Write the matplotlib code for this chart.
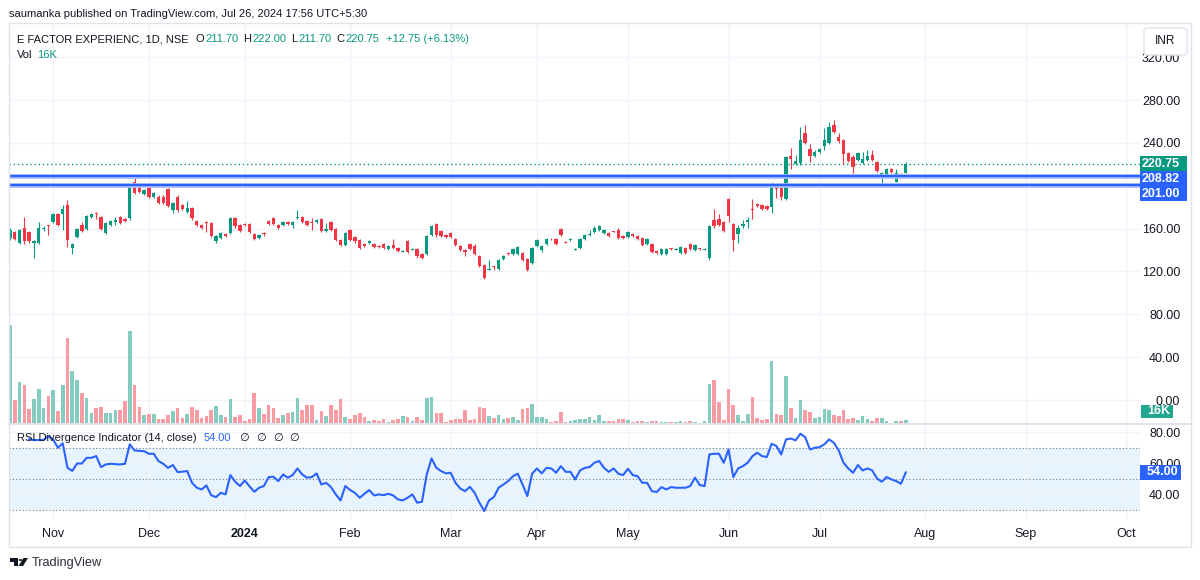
import numpy as np
import matplotlib
matplotlib.use("Agg")
import matplotlib.pyplot as plt
from matplotlib.patches import Rectangle, FancyBboxPatch, Circle, Polygon
from matplotlib.lines import Line2D

plt.rcParams['font.family'] = ['Liberation Sans', 'DejaVu Sans']

# ---------------- data ----------------
opens = [151,157,147,161,157,147,147,160,163,166,
         174,174,182,142,152,163,160,171,175,171,
         156,163,166,171,169,170,204,202,192,198,
         190,190,190,197,177,190,182,176,179,167,
         163,166,165,148,151,155,156,170,163,164,
         164,155,151,156,167,170,163,163,166,163,
         170,171,167,166,166,169,158,166,160,149,
         145,159,152,149,146,147,146,144,146,141,
         145,142,138.5,148,140.5,141,136,136,154,164,
         158,154,156,150,144,140,146,144,134,126,
         121.5,125,122,132,137,136,136,137,132,128,
         144,140,146,150.5,150,160,147.5,149,140.5,142,
         150,154,157,159,156,156,157.5,159,153,152,
         155,153,151,146,146,139,136,136,141.5,140.5,
         137,142,146,140,141.5,140.5,133,168,169,166,
         188,164,155,162,166,178,183,182,181,180,
         201,198,188,228,220,221,249,234,228,232,
         237,240,257,246,243,231,227,224,221,224,
         229,222,208,210,216,204,211,211.7]
closes = [159,150,159,148,148,148.5,161,161,162,174,
          163,178,149,146,160,158,172,174,174,160,
          165,167,168,165,167,200,193,194,196,190,
          193,184,184,181,184,177,178,179,170,163,
          161,165,153,153,156,153,170,162,158,163,
          157,150,154,155,164,164,161,166,164,166,
          171,166,163,165,168,158,160,159,149,145,
          156,149,148,142,144,148,143,143,142,144,
          142,139,139.5,138,141,134,133,153,162,154,
          153,152,152,145,140,138,141,136,125,114,
          122.5,124,131,134,136,141,143,131,121,142,
          149,144,150,150,146,154,147,150,141,150,
          154,155,161,162,159,153,157,151,151,157,
          153,150,145,150,138,137,141,141,141,141,
          143,137,141,145,141,141,162,162,163,158,
          172,149,161,164,168,177,181,178,178,199,
          197,190,227,225,223,243,240,228,232,234,
          243,255,250,242,230,223,218,231,225,228,
          224,214,212,216,213,212,208,220.75]
highs = [161,158,160,171,158,149,166,162,163,175,
         175,182,187,147,161,166,173,175,176,172,
         166,168,171,172,170,201,209,203,197,200,
         194,191,191,198,185,191,183,186,180,168,
         164,167,166,154,157,156,171,171,164,165,
         165,156,155,157,168,171,164,167,167,167,
         177,172,168,170,169,170,165,167,161,150,
         157,160,153,150,147,149,147,145,147,145,
         150,143,140,149,141.5,142,137,154,163,165,
         159,155,157,151,145,141,147,146,135,127,
         131,125.5,132,135,138,142,144,138,133,143,
         150,145,151,151,151,161,148,151,141.5,151,
         155,159,162,163,160,157,158,161,154,158,
         156,154,152,151,147,140,142,142,142,141.5,
         144,143,147,146,142,141.5,163,178,174,167,
         189,165,163,168,171,188,184,183,182,204,
         202,199,228,235,229,255,257,239,233,235,
         254,260,261,249,244,232,229,232,232,233,
         233,223,213,217,217,216,212,222]
lows = [149,149,146,146,147,133,146,158,154,165,
        162,159,143,136,151,157,159,170,169,159,
        155,162,163,164,166,168,192,193,191,189,
        189,183,183,180,175,176,177,175,168,162,
        160,157,152,147,150,152,155,161,157,162,
        156,149,150,153,163,163,160,162,163,161,
        169,165,162,159,165,157,157,158,148,144,
        144,148,147,141,143,146,142,142,141,140,
        141,138,138,137,140,133,132,135,153,152,
        152,151,151,144,139,134,140,135,124,113,
        121,121,121,131,135,135,135,130,120,127,
        143,138,145,149.5,145,153,146.5,148,140,141,
        149,153,156,158,155,152,156.5,150,150,151,
        152,149,144,145,137,136,135,135,140.5,140,
        136,136,140,139,140.5,140,131,161,162,157,
        166,139,147,161,161,169,180,177,177,175,
        189,187,187,216,219,219,239,222,227,231,
        233,239,249,240,220,222,212,223,220,223,
        223,213,202,209,212,204,208,211.7]
volume_k = [396,96,168,156,60,100,140,64,112,136,
            52,156,344,212,176,124,104,44,64,68,
            44,44,56,56,92,372,156,68,36,40,
            40,20,20,36,52,64,24,40,68,56,
            24,32,56,72,36,28,100,28,36,12,
            20,124,64,40,76,64,24,36,44,48,
            104,56,76,76,16,52,32,76,56,100,
            28,20,36,44,28,12,16,12,20,8,
            16,20,32,28,12,28,16,104,108,44,
            44,8,16,20,20,56,16,20,68,64,
            32,24,36,20,24,28,16,60,64,80,
            28,28,20,8,12,48,8,12,16,20,
            20,28,16,36,12,12,12,20,20,16,
            8,12,12,8,12,12,8,8,8,8,
            12,8,12,8,4,12,160,176,88,16,
            140,76,36,12,40,108,24,16,20,252,
            40,36,192,64,24,96,56,48,24,28,
            60,56,36,32,56,20,24,16,32,20,
            12,24,24,12,4,12,12,16]
rsi = [np.nan,np.nan,np.nan,np.nan,75.5,75.0,75.0,75.0,77.6,75.4,
       70.0,73.0,57.0,55.0,59.8,59.8,63.5,63.5,64.6,57.5,
       59.2,59.6,59.4,59.2,59.6,72.2,68.3,68.0,67.8,66.1,
       66.1,61.4,59.6,57.0,58.8,54.2,54.5,54.9,47.3,44.1,
       43.0,45.6,39.3,38.0,40.8,39.8,52.3,48.0,45.2,48.8,
       45.0,41.5,44.1,45.2,51.0,51.2,48.4,52.7,50.6,52.3,
       56.6,52.7,50.6,51.0,53.4,46.2,47.3,44.5,39.8,35.9,
       45.2,42.6,40.8,37.6,40.2,42.6,39.1,39.8,39.3,40.2,
       39.1,36.5,35.9,37.6,39.8,34.4,35.0,52.7,63.1,57.0,
       54.9,53.4,53.8,47.3,43.6,41.9,44.7,40.8,34.4,29.0,
       35.9,38.0,44.1,46.2,48.4,51.6,53.2,46.2,38.7,53.2,
       56.6,53.4,57.0,56.6,53.8,58.1,54.4,54.4,49.5,55.3,
       57.0,57.5,60.3,61.4,57.0,54.4,56.6,53.2,52.3,56.4,
       52.3,51.6,47.3,47.3,41.9,41.3,44.5,43.0,44.5,44.1,
       44.1,44.1,45.2,50.6,45.8,45.2,65.7,66.1,66.1,60.3,
       68.9,51.0,56.6,58.1,60.3,64.6,66.8,64.6,64.0,72.6,
       71.1,65.7,75.4,76.0,74.8,79.1,76.9,68.9,70.0,70.4,
       72.2,75.4,73.2,68.3,60.3,56.6,53.8,58.8,55.3,56.6,
       55.3,50.1,48.0,51.0,49.5,48.4,46.7,54.0]

month_labels = ['Nov', 'Dec', '2024', 'Feb', 'Mar', 'Apr', 'May', 'Jun', 'Jul', 'Aug', 'Sep', 'Oct']
month_bar = [9, 29, 49, 71, 92, 110, 129, 150, 169, 191, 212, 233]
price_ticks = [0, 40, 80, 120, 160, 200, 240, 280, 320]
price_hidden_ticks = [200]          # covered by the level labels on the price scale
rsi_ticks = [40, 60, 80]
rsi_bands = [70, 50, 30]
level_lines = [208.82, 201.00]
last_open, last_high, last_low, last_close = 211.70, 222.00, 211.70, 220.75
change, change_pct = 12.75, 6.13
last_rsi = 54.00
last_vol_label = '16K'

# ---------------- style ----------------
UP = '#089981'
DN = '#F23645'
UP_V = '#84ccc0'
DN_V = '#f89ba2'
BLUE = '#2962FF'
GRID = '#f0f3fa'
TXT = '#131722'
W, H = 1200, 580
FS = 8.0

def fx(px):
    return px / W

def fy(py):
    return 1 - py / H

L0, R0, TOP, SEP, RBOT, FBOT, FR = 9, 1140, 23, 424, 520, 547, 1191

fig = plt.figure(figsize=(12, 5.8), dpi=100)
fig.patch.set_facecolor('white')

rect_main = [fx(L0), fy(SEP), (R0 - L0) / W, (SEP - TOP) / H]
ax_p = fig.add_axes(rect_main, zorder=1)
ax_v = fig.add_axes(rect_main, zorder=2)
ax_r = fig.add_axes([fx(L0), fy(RBOT), (R0 - L0) / W, (RBOT - SEP) / H], zorder=1)

n = len(closes)
x = np.arange(n)
o = np.array(opens, float)
c = np.array(closes, float)
hi = np.array(highs, float)
lo = np.array(lows, float)
up = c >= o
XLIM = (-0.21, 235.9)

# price pane
ax_p.set_xlim(*XLIM)
ax_p.set_ylim(-22.4, 352)
ax_p.set_yticks(price_ticks)
ax_p.set_yticklabels(['' if t in price_hidden_ticks else f'{t:.2f}' for t in price_ticks])
ax_p.set_xticks(month_bar)
ax_p.set_xticklabels([])
ax_p.grid(True, color=GRID, lw=1)
ax_p.set_axisbelow(True)
ax_p.yaxis.tick_right()
ax_p.tick_params(axis='y', length=0, pad=29, labelsize=9, labelcolor=TXT)
ax_p.tick_params(axis='x', length=0)
for lab in ax_p.get_yticklabels():
    lab.set_horizontalalignment('right')
for s in ax_p.spines.values():
    s.set_visible(False)

col = np.where(up, UP, DN)
ax_p.vlines(x, lo, hi, colors=col, lw=0.8, zorder=3)
body_h = np.maximum(np.abs(c - o), 0.7)
ax_p.bar(x, body_h, bottom=np.minimum(o, c), width=0.7, color=col, lw=0, zorder=4)

ax_p.axhline(last_close, color=UP, lw=1.0, ls=(0, (1, 2)), zorder=2)
for lv in level_lines:
    ax_p.axhline(lv, color='#a9bcfd', lw=3.4, zorder=5)
    ax_p.axhline(lv, color=BLUE, lw=1.6, zorder=6)

# volume overlay
ax_v.set_xlim(*XLIM)
ax_v.set_ylim(0, 1604)
ax_v.patch.set_alpha(0)
ax_v.axis('off')
ax_v.bar(x, volume_k, width=0.76, color=np.where(up, UP_V, DN_V), lw=0)

# RSI pane
ax_r.set_xlim(*XLIM)
ax_r.set_ylim(23.2, 85.4)
ax_r.axhspan(min(rsi_bands), max(rsi_bands), color='#2196F3', alpha=0.1, lw=0, zorder=0.5)
for b in rsi_bands:
    ax_r.axhline(b, color='#787b86', lw=0.8, ls=(0, (1, 2)), zorder=1)
ax_r.plot(x, rsi, color=BLUE, lw=1.5, zorder=3, solid_joinstyle='round')
ax_r.set_yticks(rsi_ticks)
ax_r.set_yticklabels([f'{t:.2f}' for t in rsi_ticks])
ax_r.yaxis.tick_right()
ax_r.set_xticks(month_bar)
ax_r.set_xticklabels(month_labels)
ax_r.grid(True, color=GRID, lw=1)
ax_r.set_axisbelow(True)
ax_r.tick_params(axis='y', length=0, pad=29, labelsize=9, labelcolor=TXT)
ax_r.tick_params(axis='x', length=0, pad=6, labelsize=9, labelcolor=TXT)
for lab in ax_r.get_yticklabels():
    lab.set_horizontalalignment('right')
for lab in ax_r.get_xticklabels():
    if lab.get_text() == '2024':
        lab.set_fontweight('bold')
for s in ax_r.spines.values():
    s.set_visible(False)

# ---------------- price-scale labels ----------------
fig.canvas.draw()
renderer = fig.canvas.get_renderer()

def data_to_img_y(ax, val):
    return H - ax.transData.transform((0, val))[1]

def scale_box(y_center_img, text, color, x0=1140, x1=1187, h=15, txt_right=1180):
    fig.add_artist(Rectangle((fx(x0), fy(y_center_img + h / 2)), (x1 - x0) / W, h / H,
                             transform=fig.transFigure, facecolor=color, edgecolor='none', zorder=10))
    fig.text(fx(txt_right), fy(y_center_img), text, ha='right', va='center', color='white',
             fontsize=9, fontweight='bold', zorder=11)

prev_bottom = -1e9
for val, colr in [(last_close, UP)] + [(lv, BLUE) for lv in level_lines]:
    yc = max(data_to_img_y(ax_p, val), prev_bottom + 7.5)
    scale_box(yc, f'{val:.2f}', colr)
    prev_bottom = yc + 7.5

scale_box(SEP - 13, last_vol_label, '#22a68f', x0=1141, x1=1173, h=13, txt_right=1170)
scale_box(data_to_img_y(ax_r, last_rsi), f'{last_rsi:.2f}', BLUE, x0=1140, x1=1181, h=15, txt_right=1178)

# INR box
fig.add_artist(FancyBboxPatch((fx(1144), fy(55)), 43 / W, 27 / H, boxstyle='round,pad=0,rounding_size=0.004',
                              transform=fig.transFigure, facecolor='white', edgecolor='#e0e3eb', lw=1, zorder=12))
fig.text(fx(1165.5), fy(41), 'INR', ha='center', va='center', fontsize=8.5, color=TXT, zorder=13)

# frame & separators
fig.add_artist(Rectangle((fx(L0), fy(FBOT)), (FR - L0) / W, (FBOT - TOP) / H, transform=fig.transFigure,
                         facecolor='none', edgecolor='#e0e3eb', lw=1, zorder=9))
fig.add_artist(Line2D([fx(L0), fx(FR)], [fy(SEP), fy(SEP)], transform=fig.transFigure,
                      color='#e0e3eb', lw=1.5, zorder=9))

# ---------------- header & legends ----------------
def seq_text(x_start, y_img, parts, **kw):
    xp = x_start
    for gap, txt, colr, extra in parts:
        xp += gap
        t = fig.text(fx(xp), fy(y_img), txt, ha='left', va='center', fontsize=FS, color=colr,
                     zorder=12, **extra, **kw)
        xp += t.get_window_extent(renderer).width

fig.text(fx(9), fy(14), 'saumanka published on TradingView.com, Jul 26, 2024 17:56 UTC+5:30',
         ha='left', va='center', fontsize=FS, color=TXT)

seq_text(17, 39.5, [
    (0, 'E FACTOR EXPERIENC, 1D, NSE', TXT, {}),
    (7, 'O', TXT, {}), (1, f'{last_open:.2f}', UP, {}),
    (5, 'H', TXT, {}), (1, f'{last_high:.2f}', UP, {}),
    (5, 'L', TXT, {}), (1, f'{last_low:.2f}', UP, {}),
    (5, 'C', TXT, {}), (1, f'{last_close:.2f}', UP, {}),
    (6, f'+{change:.2f} (+{change_pct:.2f}%)', UP, {}),
])
seq_text(17, 54.5, [(0, 'Vol', TXT, {}), (5, last_vol_label, UP, {})])

seq_text(17, 438, [
    (0, 'RSI Divergence Indicator (14, close)', TXT, {}),
    (7, f'{last_rsi:.2f}', BLUE, {}),
    (8, '\u2205', TXT, {'family': ['DejaVu Sans']}),
    (7, '\u2205', TXT, {'family': ['DejaVu Sans']}),
    (7, '\u2205', TXT, {'family': ['DejaVu Sans']}),
    (7, '\u2205', TXT, {'family': ['DejaVu Sans']}),
])

# ---------------- TradingView logo ----------------
logo_col = TXT
fig.add_artist(Rectangle((fx(9.5), fy(561.5)), 8.5 / W, 3.5 / H, transform=fig.transFigure, color=logo_col, lw=0))
fig.add_artist(Rectangle((fx(14), fy(566)), 4 / W, 8 / H, transform=fig.transFigure, color=logo_col, lw=0))
fig.add_artist(Circle((fx(20.5), fy(560)), 1.9 / W, transform=fig.transFigure, color=logo_col, lw=0))
fig.add_artist(Polygon([(fx(18.5), fy(566)), (fx(23.5), fy(558)), (fx(28), fy(558)), (fx(23), fy(566))],
                       closed=True, transform=fig.transFigure, color=logo_col, lw=0))
fig.text(fx(31.5), fy(563), 'TradingView', ha='left', va='center', fontsize=9.2, color='#2a2e39')

fig.savefig('out.png', dpi=100, facecolor='white')
